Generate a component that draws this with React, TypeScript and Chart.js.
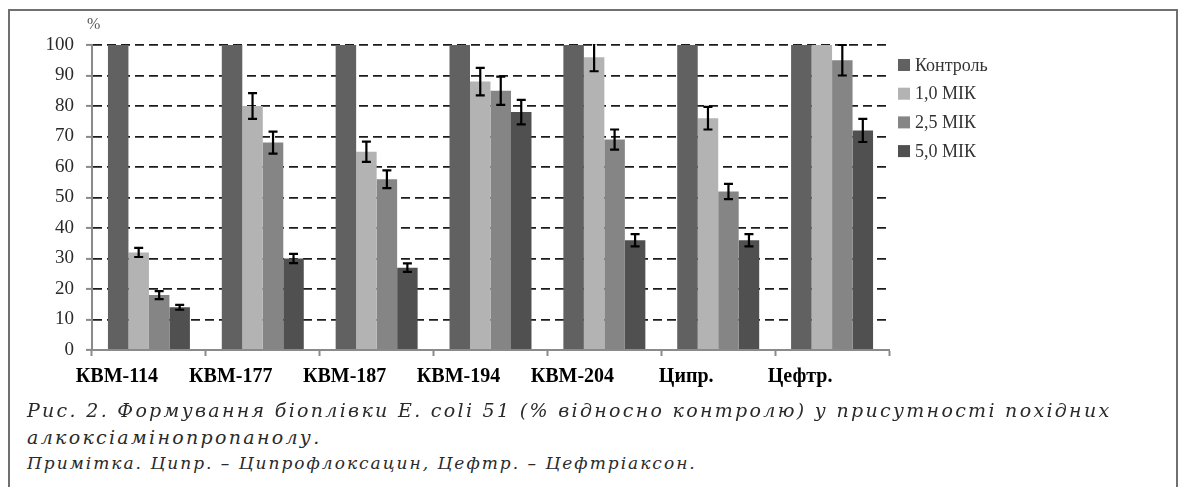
import React, { useEffect, useRef } from "react";
import { Chart, registerables } from "chart.js";

Chart.register(...registerables);

// Categories (compounds and reference antibiotics)
const categories = ["КВМ-114", "КВМ-177", "КВМ-187", "КВМ-194", "КВМ-204", "Ципр.", "Цефтр."];

// Series names
const seriesNames = ["Контроль", "1,0 МІК", "2,5 МІК", "5,0 МІК"];

// Biofilm formation, % of control
const controlValues = [100, 100, 100, 100, 100, 100, 100];
const mic10Values = [32, 80, 65, 88, 96, 76, 100];
const mic25Values = [18, 68, 56, 85, 69, 52, 95];
const mic50Values = [14, 30, 27, 78, 36, 36, 72];

// Error bar half-widths (null = no error bar)
const controlErrors = [null, null, null, null, null, null, null];
const mic10Errors = [1.5, 4.2, 3.3, 4.5, 4.6, 3.7, null];
const mic25Errors = [1.3, 3.6, 2.9, 4.6, 3.3, 2.5, 5];
const mic50Errors = [0.8, 1.5, 1.4, 4, 2, 2, 3.8];

// Value axis
const yMin = 0;
const yMax = 100;
const yStep = 10;

const seriesColors = ["#616161", "#b3b3b3", "#858585", "#505050"];

const captionLine1 = "Рис. 2. Формування біоплівки E. coli 51 (% відносно контролю) у присутності похідних";
const captionLine2 = "алкоксіамінопропанолу.";
const noteLine = "Примітка. Ципр. – Ципрофлоксацин, Цефтр. – Цефтріаксон.";

// Draws black error bars with caps over every bar that has an error value
const errorBarsPlugin = {
  id: "errorBars",
  afterDatasetsDraw(chart: any) {
    const { ctx, chartArea, scales } = chart;
    const y = scales.y;
    ctx.save();
    ctx.beginPath();
    ctx.rect(chartArea.left, chartArea.top - 1, chartArea.right - chartArea.left, chartArea.bottom - chartArea.top + 1);
    ctx.clip();
    ctx.strokeStyle = "#000";
    ctx.lineWidth = 2.2;
    chart.data.datasets.forEach((ds: any, i: number) => {
      const errs = ds.errors;
      if (!errs) return;
      chart.getDatasetMeta(i).data.forEach((bar: any, j: number) => {
        const e = errs[j];
        if (e == null) return;
        const v = ds.data[j];
        const yTop = y.getPixelForValue(v + e);
        const yBot = y.getPixelForValue(v - e);
        const x = bar.x;
        ctx.beginPath();
        ctx.moveTo(x, yTop);
        ctx.lineTo(x, yBot);
        ctx.moveTo(x - 4.5, yTop);
        ctx.lineTo(x + 4.5, yTop);
        ctx.moveTo(x - 4.5, yBot);
        ctx.lineTo(x + 4.5, yBot);
        ctx.stroke();
      });
    });
    ctx.restore();
  },
};

// Legend at the right of the plot, top-aligned
const sideLegendPlugin = {
  id: "sideLegend",
  afterDraw(chart: any) {
    const { ctx, chartArea } = chart;
    ctx.save();
    ctx.font = '18px "Liberation Serif"';
    ctx.textBaseline = "middle";
    ctx.textAlign = "left";
    chart.data.datasets.forEach((ds: any, i: number) => {
      const x = chartArea.right + 9;
      const yc = chartArea.top + 20 + i * 28.7;
      ctx.fillStyle = ds.backgroundColor;
      ctx.fillRect(x, yc - 6, 12, 12);
      ctx.fillStyle = "#333";
      ctx.fillText(ds.label, x + 17, yc + 1);
    });
    ctx.restore();
  },
};

export default function App() {
  const canvasRef = useRef<HTMLCanvasElement>(null);

  useEffect(() => {
    if (!canvasRef.current) return;
    const values = [controlValues, mic10Values, mic25Values, mic50Values];
    const errors = [controlErrors, mic10Errors, mic25Errors, mic50Errors];
    const chart = new Chart(canvasRef.current, {
      type: "bar",
      data: {
        labels: categories,
        datasets: seriesNames.map((name, i) => ({
          label: name,
          data: values[i],
          errors: errors[i],
          backgroundColor: seriesColors[i],
          borderWidth: 0,
          categoryPercentage: 0.72,
          barPercentage: 1,
        })) as any,
      },
      options: {
        responsive: false,
        animation: false,
        events: [],
        layout: { padding: { left: 0, right: 290, top: 45, bottom: 10 } },
        plugins: {
          legend: { display: false },
          tooltip: { enabled: false },
          title: { display: false },
        },
        scales: {
          x: {
            offset: true,
            grid: {
              display: true,
              offset: true,
              drawOnChartArea: false,
              drawTicks: true,
              tickLength: 6,
              tickColor: "#8a8a8a",
              tickWidth: 2,
            },
            border: { display: true, color: "#8a8a8a", width: 2 },
            ticks: {
              color: "#000",
              font: { family: "Liberation Serif", size: 20, weight: "bold" },
              padding: 9,
              labelOffset: -32,
              maxRotation: 0,
              autoSkip: false,
            },
            afterFit: (scale: any) => {
              scale.height = 40;
            },
          },
          y: {
            min: yMin,
            max: yMax,
            ticks: {
              stepSize: yStep,
              color: "#2a2a2a",
              font: { family: "Liberation Serif", size: 19 },
              padding: 12,
            },
            grid: {
              color: (ctx: any) => (ctx.tick && ctx.tick.value === 0 ? "rgba(0,0,0,0)" : "#1c1c1c"),
              lineWidth: 1.8,
              tickLength: 6,
              tickColor: "#8a8a8a",
              tickWidth: 2,
              tickBorderDash: [],
            },
            border: { display: true, color: "#8a8a8a", width: 2, dash: [9, 5] },
            afterFit: (scale: any) => {
              scale.width = 92;
            },
          },
        },
      } as any,
      plugins: [errorBarsPlugin, sideLegendPlugin],
    });
    return () => chart.destroy();
  }, []);

  const captionStyle: React.CSSProperties = {
    position: "absolute",
    left: 27,
    fontFamily: '"DejaVu Serif", serif',
    fontStyle: "italic",
    color: "#2a2a2a",
    lineHeight: 1,
    whiteSpace: "nowrap",
  };

  return (
    <div
      style={{
        position: "absolute",
        left: 0,
        top: 0,
        width: 1179,
        height: 487,
        background: "#fff",
        overflow: "hidden",
      }}
    >
      <div
        style={{
          position: "absolute",
          left: 8,
          top: 9,
          width: 1170,
          height: 520,
          border: "2px solid #707070",
          boxSizing: "border-box",
        }}
      />
      <div style={{ position: "absolute", left: 0, top: 0, width: 1179, height: 400 }}>
        <canvas ref={canvasRef} width={1179} height={400} style={{ width: 1179, height: 400, display: "block" }} />
      </div>
      <span
        style={{
          position: "absolute",
          left: 87,
          top: 16,
          fontFamily: '"Liberation Serif", serif',
          fontSize: 16,
          color: "#555",
          lineHeight: 1,
        }}
      >
        %
      </span>
      <div style={{ ...captionStyle, top: 401, fontSize: 19, letterSpacing: 2.3 }}>{captionLine1}</div>
      <div style={{ ...captionStyle, top: 428, fontSize: 19, letterSpacing: 2.3 }}>{captionLine2}</div>
      <div style={{ ...captionStyle, top: 455, fontSize: 17, letterSpacing: 2.0 }}>{noteLine}</div>
    </div>
  );
}
